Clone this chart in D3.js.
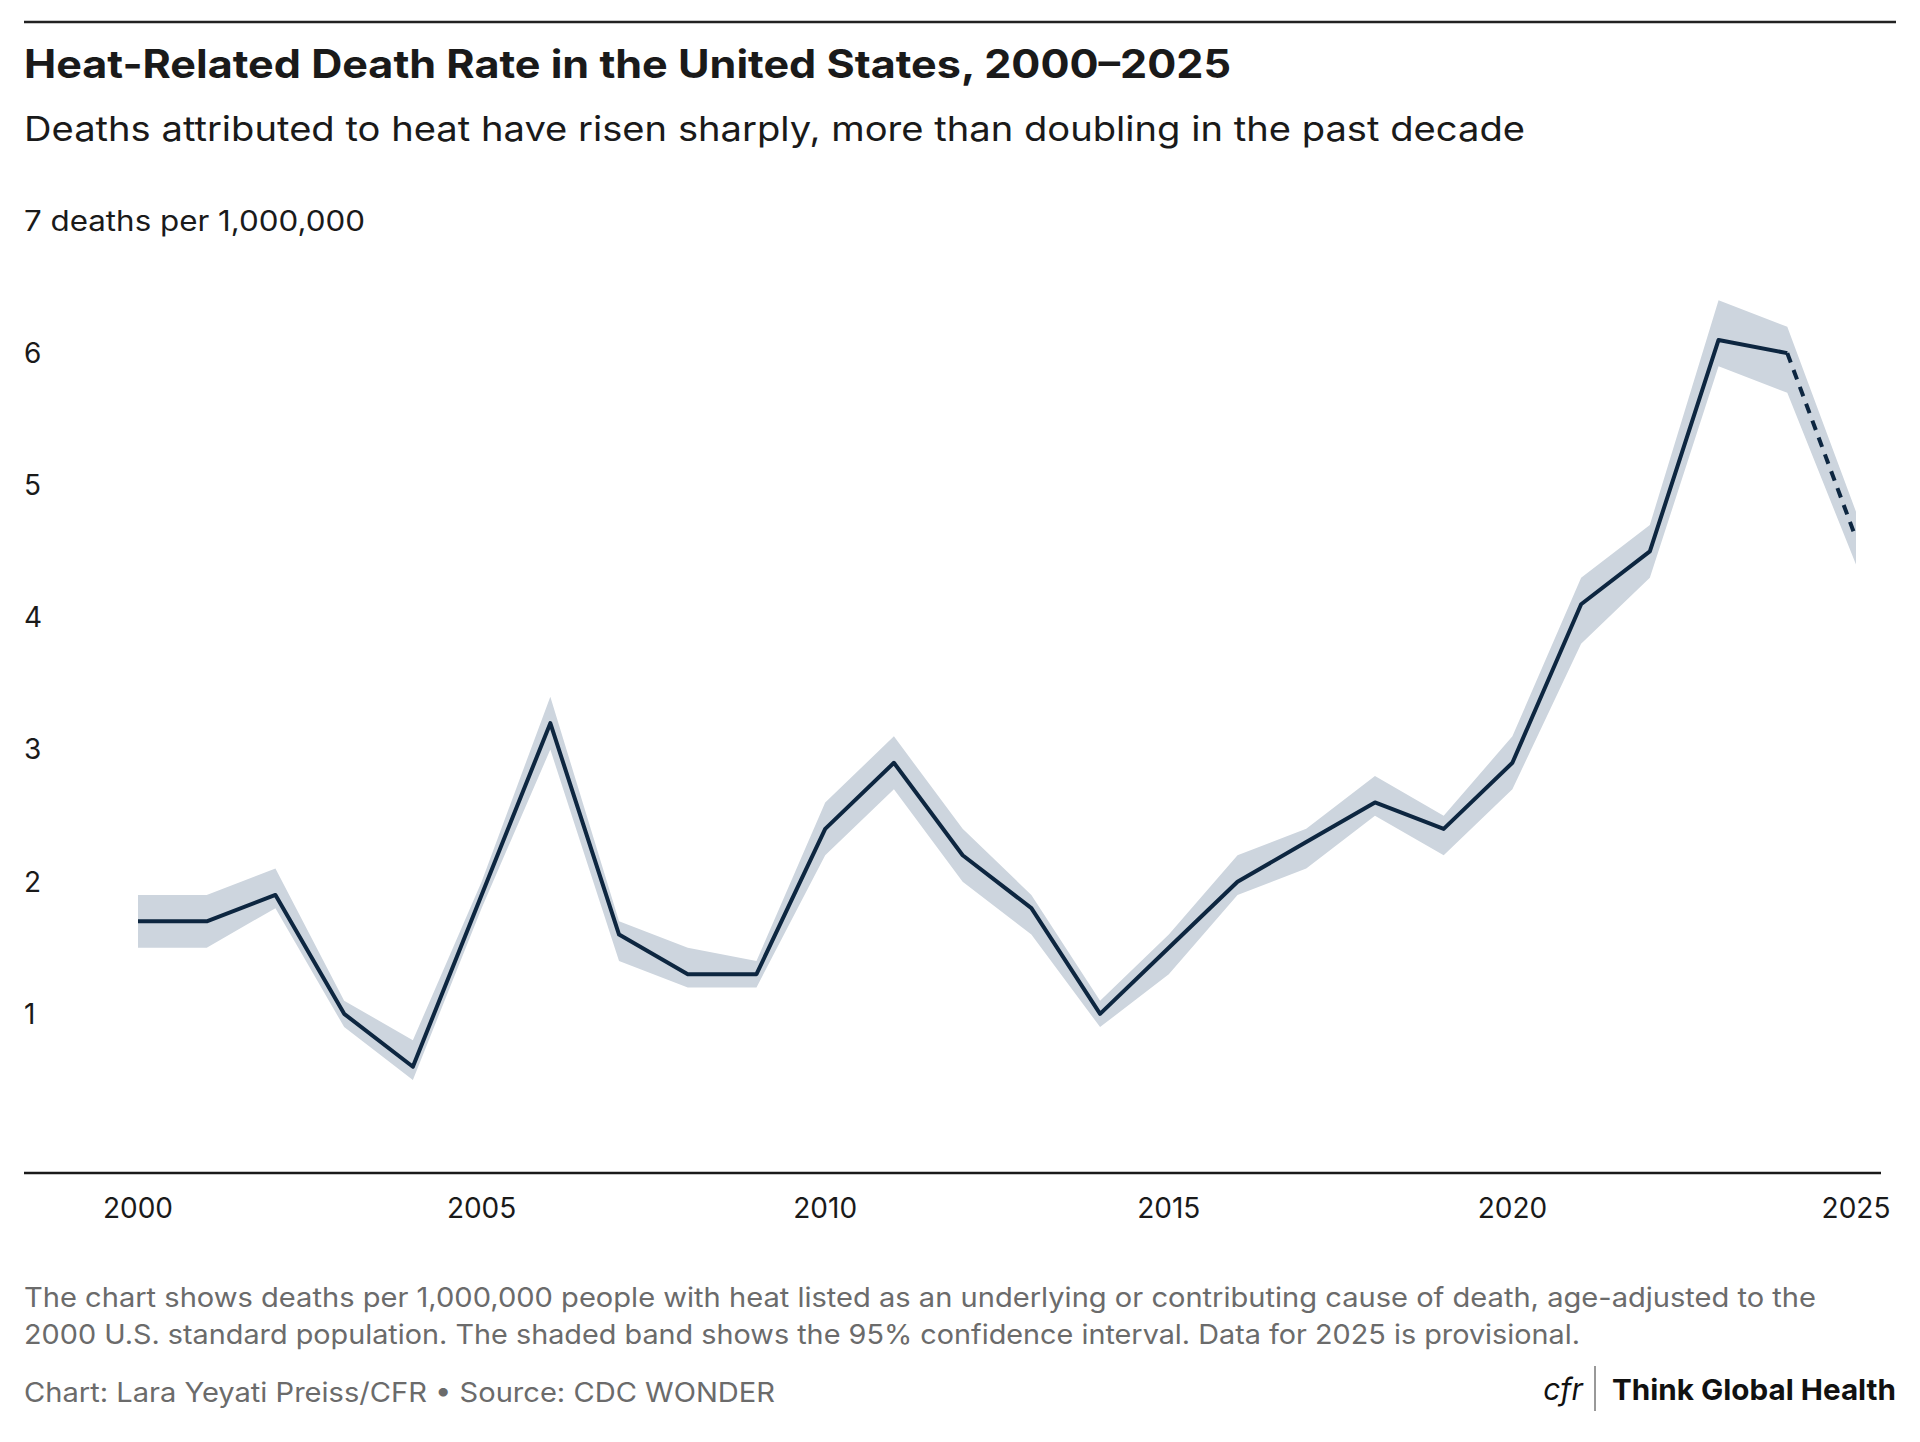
<!DOCTYPE html>
<html><head><meta charset="utf-8">
<script src="https://cdn.jsdelivr.net/npm/d3@7"></script>
<style>body{margin:0;background:#fff}text{font-family:Inter,"Noto Sans",sans-serif}</style>
</head><body>
<svg id="chart" width="1920" height="1442"></svg>
<script>
const years = d3.range(2000, 2026)
const rates = [1.7,1.7,1.9,1.0,0.6,1.9,3.2,1.6,1.3,1.3,2.4,2.9,2.2,1.8,1.0,1.5,2.0,2.3,2.6,2.4,2.9,4.1,4.5,6.1,6.0,4.6]
const lower = [1.5,1.5,1.8,0.9,0.5,1.8,3.0,1.4,1.2,1.2,2.2,2.7,2.0,1.6,0.9,1.3,1.9,2.1,2.5,2.2,2.7,3.8,4.3,5.9,5.7,4.4]
const upper = [1.9,1.9,2.1,1.1,0.8,2.0,3.4,1.7,1.5,1.4,2.6,3.1,2.4,1.9,1.1,1.6,2.2,2.4,2.8,2.5,3.1,4.3,4.7,6.4,6.2,4.8]
const yTicks = [1,2,3,4,5,6]
const xTicks = [2000,2005,2010,2015,2020,2025]

const svg = d3.select('#chart')
const x = d3.scaleLinear().domain([2000, 2025]).range([138, 1856])
const y = d3.scaleLinear().domain([0, 7]).range([1146, 221])

let data = years.map((yr, i) => ({yr: yr, v: rates[i], lo: lower[i], hi: upper[i]}))

let fitText = (sel, len) => sel.attr('textLength', len).attr('lengthAdjust', 'spacingAndGlyphs')

svg.append('line').attr('x1', 24).attr('x2', 1896).attr('y1', 22).attr('y2', 22)
   .attr('stroke', '#222').attr('stroke-width', 2.5)
svg.append('text').attr('x', 24).attr('y', 78).text('Heat-Related Death Rate in the United States, 2000–2025')
   .attr('font-size', 39).attr('font-weight', 700).attr('fill', '#1a1a1a').call(fitText, 1207)
svg.append('text').attr('x', 24).attr('y', 141).text('Deaths attributed to heat have risen sharply, more than doubling in the past decade')
   .attr('font-size', 34).attr('fill', '#1a1a1a').call(fitText, 1501)

// y labels
svg.append('g').selectAll('text').data(yTicks).enter().append('text')
   .attr('x', 24).attr('y', d => y(d)).attr('dy', '0.35em').text(d => d)
   .attr('font-size', 28).attr('fill', '#1a1a1a')
svg.append('text').attr('x', 24).attr('y', y(7)).attr('dy', '0.35em').text('7 deaths per 1,000,000')
   .attr('font-size', 28).attr('fill', '#1a1a1a').call(fitText, 341)

// band
svg.append('path').datum(data)
   .attr('d', d3.area().x(d => x(d.yr)).y0(d => y(d.lo)).y1(d => y(d.hi)))
   .attr('fill', '#cdd5de')

const line = d3.line().x(d => x(d.yr)).y(d => y(d.v))
svg.append('path').datum(data.slice(0, 25)).attr('d', line)
   .attr('fill', 'none').attr('stroke', '#0d2640').attr('stroke-width', 4).attr('stroke-linejoin', 'round')
svg.append('path').datum(data.slice(24)).attr('d', line)
   .attr('fill', 'none').attr('stroke', '#0d2640').attr('stroke-width', 4).attr('stroke-dasharray', '10,8')

// x axis
svg.append('line').attr('x1', 24).attr('x2', 1881).attr('y1', 1173).attr('y2', 1173)
   .attr('stroke', '#1a1a1a').attr('stroke-width', 2.5)
svg.append('g').selectAll('text').data(xTicks).enter().append('text')
   .attr('x', d => x(d)).attr('y', 1218).attr('text-anchor', 'middle').text(d => d)
   .attr('font-size', 28).attr('fill', '#1a1a1a')

// notes
const notes = ['The chart shows deaths per 1,000,000 people with heat listed as an underlying or contributing cause of death, age-adjusted to the',
  '2000 U.S. standard population. The shaded band shows the 95% confidence interval. Data for 2025 is provisional.']
const noteLens = [1792, 1556]
svg.append('g').selectAll('text').data(notes).enter().append('text')
   .attr('x', 24).attr('y', (d, i) => 1307 + i * 37).text(d => d)
   .attr('font-size', 27).attr('fill', '#6b6b6b')
   .attr('textLength', (d, i) => noteLens[i]).attr('lengthAdjust', 'spacingAndGlyphs')
svg.append('text').attr('x', 24).attr('y', 1402).text('Chart: Lara Yeyati Preiss/CFR • Source: CDC WONDER')
   .attr('font-size', 27).attr('fill', '#6b6b6b').call(fitText, 751)

svg.append('text').attr('x', 1896).attr('y', 1400).attr('text-anchor', 'end').text('Think Global Health')
   .attr('font-size', 29).attr('font-weight', 700).attr('fill', '#111').call(fitText, 284)
svg.append('line').attr('x1', 1595).attr('x2', 1595).attr('y1', 1366).attr('y2', 1411).attr('stroke', '#333').attr('stroke-width', 1)
svg.append('text').attr('x', 1563).attr('y', 1400).attr('text-anchor', 'middle').text('cfr')
   .attr('font-size', 30).attr('font-style', 'italic').attr('font-family', 'DejaVu Serif').attr('fill', '#111')
</script>
</body></html>
